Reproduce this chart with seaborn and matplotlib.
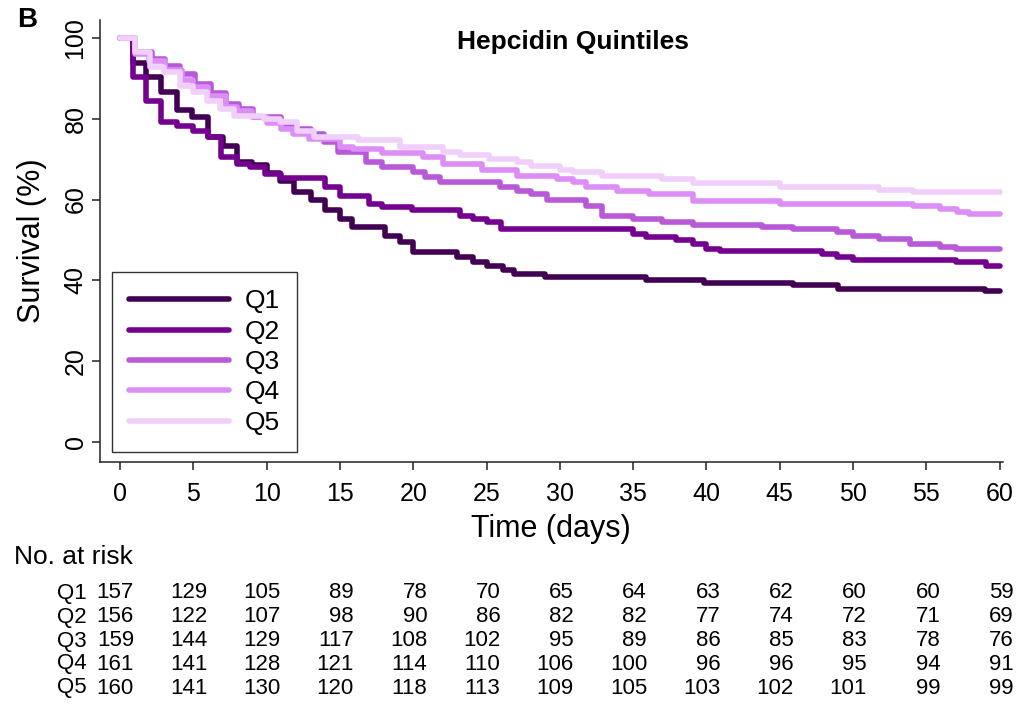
import numpy as np
import pandas as pd
import matplotlib
matplotlib.use("Agg")
import matplotlib.pyplot as plt
import matplotlib.transforms as mtransforms
from matplotlib.lines import Line2D
import seaborn as sns

# Kaplan-Meier step points (day, survival %)
q1_t = [0, 0.9, 1.8, 2.8, 3.9, 4.9, 6.0, 7.0, 8.0, 9.0, 10.0, 10.9, 11.9, 13.0, 14.0, 15.0, 15.8,
        18.1, 19.1, 20.0, 23.0, 24.1, 25.0, 26.1, 26.9, 29.0, 35.9, 39.8, 45.9, 49.0, 59.0, 60]
q1_s = [100, 93.7, 90.4, 86.7, 82.2, 80.3, 75.4, 73.3, 69.2, 68.5, 66.5, 64.7, 61.8, 59.8, 57.3, 55.2, 53.2,
        51.1, 49.5, 47.0, 45.8, 44.5, 43.7, 42.5, 41.6, 40.8, 40.0, 39.3, 38.8, 38.0, 37.5, 37.5]

q2_t = [0, 0.9, 1.8, 2.8, 3.9, 5.0, 6.0, 6.9, 7.95, 8.9, 9.9, 11.0, 14.0, 15.0, 17.0, 17.9, 19.9,
        23.2, 24.1, 25.0, 26.0, 35.0, 35.9, 37.9, 39.1, 40.0, 40.9, 47.9, 48.9, 50.0, 57.0, 59.1, 60]
q2_s = [100, 90.2, 84.4, 79.1, 78.3, 77.0, 75.4, 70.4, 68.8, 68.0, 66.3, 65.3, 63.0, 61.0, 59.0, 58.1, 57.3,
        56.0, 55.2, 54.4, 52.8, 51.5, 50.7, 49.9, 49.0, 47.8, 47.4, 46.6, 45.8, 45.1, 44.5, 43.7, 43.7]

q3_t = [0, 1.0, 2.2, 3.1, 4.1, 5.1, 6.2, 7.2, 8.1, 9.1, 11.0, 12.0, 13.0, 13.9, 14.9, 16.8, 17.9,
        20.0, 20.8, 21.8, 25.9, 27.1, 28.0, 29.1, 31.8, 32.9, 35.0, 37.0, 39.1, 43.8, 45.9, 48.9,
        50.0, 51.8, 53.9, 55.9, 57.0, 60]
q3_s = [100, 96.5, 94.7, 93.0, 91.0, 88.6, 86.4, 83.6, 82.4, 80.5, 78.5, 77.4, 76.3, 74.2, 71.7, 69.2, 68.0,
        66.7, 65.5, 64.3, 63.0, 62.2, 61.4, 59.8, 58.5, 56.0, 55.2, 54.4, 53.8, 53.3, 52.8, 51.9,
        51.1, 50.3, 49.0, 48.2, 47.8, 47.8]

q4_t = [0, 1.0, 2.0, 3.1, 4.2, 5.0, 6.0, 7.2, 8.0, 9.0, 10.0, 11.0, 11.8, 12.9, 15.0, 15.9, 17.9,
        20.7, 22.0, 24.7, 27.1, 29.8, 30.9, 31.8, 33.9, 36.1, 39.1, 45.0, 54.1, 55.9, 57.1, 57.9, 60]
q4_s = [100, 96.0, 94.3, 92.0, 89.5, 87.7, 85.5, 82.8, 82.0, 80.3, 79.0, 77.4, 76.2, 75.0, 72.9, 72.5, 71.5,
        70.4, 68.8, 67.2, 65.9, 65.1, 64.3, 63.0, 62.2, 61.4, 59.7, 58.9, 58.5, 57.7, 57.0, 56.5, 56.5]

q5_t = [0, 1.0, 2.05, 3.0, 4.1, 5.0, 5.9, 6.8, 7.8, 9.8, 10.9, 12.1, 13.2, 16.2, 19.1, 22.0, 23.2,
        25.2, 27.1, 28.0, 30.0, 30.9, 32.9, 37.0, 39.1, 45.0, 51.8, 54.1, 60]
q5_s = [100, 96.4, 92.7, 91.5, 88.1, 86.5, 84.4, 82.4, 80.7, 79.9, 79.1, 77.0, 75.4, 74.6, 73.1, 71.7, 70.9,
        70.0, 69.2, 68.4, 67.2, 66.7, 65.9, 65.1, 64.2, 63.2, 62.4, 61.8, 61.8]

groups = ["Q1", "Q2", "Q3", "Q4", "Q5"]
colors = ["#420052", "#74008f", "#b85ad8", "#dd8ef6", "#f0d0fb"]

# numbers at risk
risk_times = [0, 5, 10, 15, 20, 25, 30, 35, 40, 45, 50, 55, 60]
risk_q1 = [157, 129, 105, 89, 78, 70, 65, 64, 63, 62, 60, 60, 59]
risk_q2 = [156, 122, 107, 98, 90, 86, 82, 82, 77, 74, 72, 71, 69]
risk_q3 = [159, 144, 129, 117, 108, 102, 95, 89, 86, 85, 83, 78, 76]
risk_q4 = [161, 141, 128, 121, 114, 110, 106, 100, 96, 96, 95, 94, 91]
risk_q5 = [160, 141, 130, 120, 118, 113, 109, 105, 103, 102, 101, 99, 99]

times = [q1_t, q2_t, q3_t, q4_t, q5_t]
survs = [q1_s, q2_s, q3_s, q4_s, q5_s]
risks = [risk_q1, risk_q2, risk_q3, risk_q4, risk_q5]

frames = []
for g, t, s in zip(groups, times, survs):
    frames.append(pd.DataFrame({"time": t, "surv": s, "group": g}))
df = pd.concat(frames, ignore_index=True)

sns.set_style("ticks")
plt.rcParams["font.family"] = ["Liberation Sans", "DejaVu Sans"]
plt.rcParams["text.color"] = "black"
plt.rcParams["axes.labelcolor"] = "black"
plt.rcParams["xtick.color"] = "black"
plt.rcParams["ytick.color"] = "black"

fig = plt.figure(figsize=(10.21, 7.11), dpi=100)
ax = fig.add_axes([0.098, 0.350, 0.884, 0.622])

sns.lineplot(data=df, x="time", y="surv", hue="group", palette=colors, hue_order=groups,
             drawstyle="steps-post", linewidth=4.0, estimator=None, legend=False, ax=ax)

ax.set_xlim(-1.36, 60.2)
ax.set_ylim(-4.9, 104.4)
ax.set_xticks(range(0, 61, 5))
ax.set_yticks(range(0, 101, 20))
for side in ["top", "right"]:
    ax.spines[side].set_visible(False)
for side in ["left", "bottom"]:
    ax.spines[side].set_linewidth(1.1)
    ax.spines[side].set_color("#222222")
ax.tick_params(axis="both", direction="out", length=6, width=1.1, color="#222222", labelsize=18,
               labelcolor="black")
ax.tick_params(axis="x", pad=8)
ax.tick_params(axis="y", pad=3)
for lab in ax.get_yticklabels():
    lab.set_rotation(90)
    lab.set_va("center")
ax.set_xlabel("Time (days)", fontsize=22, labelpad=6, color="black")
ax.set_ylabel("Survival (%)", fontsize=22, labelpad=12, color="black")
ax.grid(False)

handles = [Line2D([0], [0], color=c, linewidth=4.0) for c in colors]
leg = ax.legend(handles, groups, loc="lower left", bbox_to_anchor=(0.013, 0.023), borderaxespad=0,
                fontsize=19, handlelength=3.8, handletextpad=0.6, labelspacing=0.24,
                frameon=True, fancybox=False, edgecolor="black", borderpad=0.65)
leg.get_frame().set_linewidth(1.0)
for txt in leg.get_texts():
    txt.set_color("black")

fig.text(0.561, 1 - 42 / 711, "Hepcidin Quintiles", fontsize=19, fontweight="bold", ha="center", va="center")
fig.text(0.017, 1 - 20 / 711, "B", fontsize=20, fontweight="bold", ha="left", va="center")

# number-at-risk table
fig.text(0.014, 1 - 557 / 711, "No. at risk", fontsize=19, ha="left", va="center")
trans = mtransforms.blended_transform_factory(ax.transData, fig.transFigure)
row_y = [593, 617, 641, 664, 688]
for g, r, yy in zip(groups, risks, row_y):
    fig.text(0.056, 1 - yy / 711, g, fontsize=16, ha="left", va="center")
    for t, n in zip(risk_times, r):
        ax.text(t + 0.95, 1 - yy / 711, str(n), fontsize=16, ha="right", va="center",
                transform=trans, clip_on=False)

fig.savefig("out.png", dpi=100)
